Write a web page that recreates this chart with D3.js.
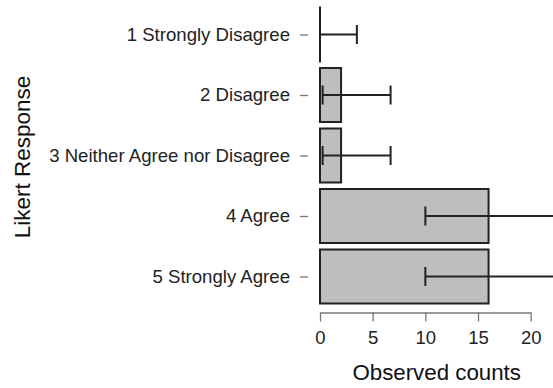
<!DOCTYPE html>
<html>
<head>
<meta charset="utf-8">
<script src="https://cdn.jsdelivr.net/npm/d3@7"></script>
<style>
  body { margin: 0; background: #fff; }
  text { font-family: "Liberation Sans", Arial, sans-serif; }
</style>
</head>
<body>
<div id="main"></div>
<script>
var categories = ["1 Strongly Disagree", "2 Disagree", "3 Neither Agree nor Disagree", "4 Agree", "5 Strongly Agree"];
var counts = [0, 2, 2, 16, 16];
var lower = [0, 0.25, 0.25, 10, 10];
var upper = [3.5, 6.7, 6.7, 24, 24];
var xTicks = [0, 5, 10, 15, 20];

var width = 553, height = 388;
var rows = categories.map(function(c, i) {
  return { cat: c, n: counts[i], lo: lower[i], hi: upper[i] };
});

var svg = d3.select('#main').append('svg')
  .attr('width', width)
  .attr('height', height);

var x = d3.scaleLinear().domain([0, 20]).range([320, 530.7]);
var y = d3.scalePoint().domain(categories).range([34.5, 276.5]);
var barH = 54, capH = 19;

// bars (zero count still draws its outline as a vertical line)
svg.append('g').selectAll('rect').data(rows)
  .enter().append('rect')
  .attr('x', x(0))
  .attr('y', function(d) { return y(d.cat) - barH / 2; })
  .attr('width', function(d) { return Math.max(0.01, x(d.n) - x(0)); })
  .attr('height', barH)
  .attr('fill', '#bebebe')
  .attr('stroke', '#222')
  .attr('stroke-width', 2);

// error bars
var eb = svg.append('g').selectAll('g').data(rows)
  .enter().append('g')
  .attr('stroke', '#222')
  .attr('stroke-width', 2)
  .attr('fill', 'none');
eb.append('line')
  .attr('x1', function(d) { return x(d.lo); })
  .attr('x2', function(d) { return x(d.hi); })
  .attr('y1', function(d) { return y(d.cat); })
  .attr('y2', function(d) { return y(d.cat); });
eb.append('line')
  .attr('x1', function(d) { return x(d.lo); })
  .attr('x2', function(d) { return x(d.lo); })
  .attr('y1', function(d) { return y(d.cat) - capH / 2; })
  .attr('y2', function(d) { return y(d.cat) + capH / 2; });
eb.append('line')
  .attr('x1', function(d) { return x(d.hi); })
  .attr('x2', function(d) { return x(d.hi); })
  .attr('y1', function(d) { return y(d.cat) - capH / 2; })
  .attr('y2', function(d) { return y(d.cat) + capH / 2; });

// x axis
var xAxis = svg.append('g')
  .attr('transform', 'translate(0,312.5)')
  .call(d3.axisBottom(x).tickValues(xTicks).tickSize(9).tickPadding(9).tickSizeOuter(0));
xAxis.select('.domain').attr('stroke', '#777').attr('stroke-width', 1.3);
xAxis.selectAll('.tick line').attr('stroke', '#777').attr('stroke-width', 1.3);
xAxis.selectAll('.tick text').attr('fill', '#222').style('font-size', '18.5px');

// y axis (ticks only)
var yAxis = svg.append('g')
  .attr('transform', 'translate(308,0)')
  .call(d3.axisLeft(y).tickSize(8).tickPadding(10));
yAxis.select('.domain').remove();
yAxis.selectAll('.tick line').attr('stroke', '#777').attr('stroke-width', 1.3);
yAxis.selectAll('.tick text').attr('fill', '#222').style('font-size', '18.6px');

// titles
svg.append('text')
  .attr('x', 436.7)
  .attr('y', 379.5)
  .attr('text-anchor', 'middle')
  .attr('fill', '#111')
  .style('font-size', '22.3px')
  .text('Observed counts');

svg.append('text')
  .attr('transform', 'translate(30,157) rotate(-90)')
  .attr('text-anchor', 'middle')
  .attr('fill', '#111')
  .style('font-size', '22.5px')
  .text('Likert Response');
</script>
</body>
</html>
